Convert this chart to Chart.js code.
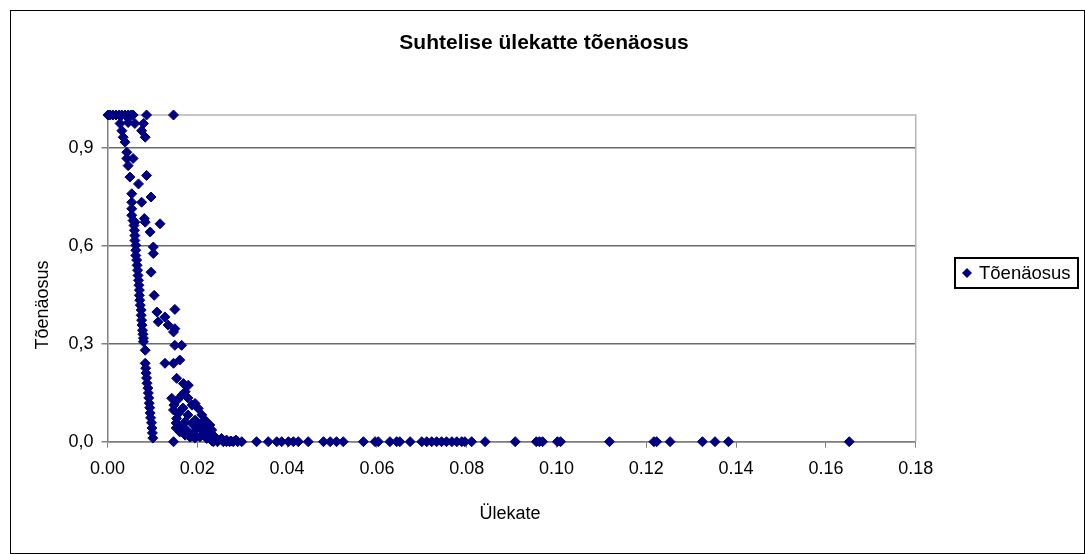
<!DOCTYPE html>
<html>
<head>
<meta charset="utf-8">
<script src="https://cdn.jsdelivr.net/npm/chart.js@4/dist/chart.umd.min.js"></script>
<style>
  html, body { margin: 0; padding: 0; background: #fff; }
  #wrap { width: 1085px; height: 554px; position: relative; }
</style>
</head>
<body>
<div id="wrap"><canvas id="overlapChart" width="1085" height="554"></canvas></div>
<script>
// Ülekate (x) vs tõenäosus (y)
const topX = [0.0001, 0.0006, 0.0012, 0.0019, 0.0026, 0.0032, 0.0039, 0.0046, 0.0052, 0.0057, 0.0087, 0.0147];
const topY = [1.0, 1.0, 1.0, 1.0, 1.0, 1.0, 1.0, 1.0, 1.0, 1.0, 1.0, 1.0];

const upperX = [0.0028, 0.0046, 0.0061, 0.0080, 0.0076, 0.0084, 0.0032, 0.0035, 0.0039, 0.0043, 0.0043, 0.0057,
  0.0046, 0.0050, 0.0087, 0.0069, 0.0054, 0.0097, 0.0054, 0.0076, 0.0054, 0.0054, 0.0082, 0.0061, 0.0117];
const upperY = [0.974, 0.977, 0.974, 0.974, 0.952, 0.932, 0.952, 0.932, 0.917, 0.886, 0.867, 0.867,
  0.845, 0.810, 0.815, 0.789, 0.759, 0.749, 0.733, 0.733, 0.713, 0.693, 0.683, 0.672, 0.667];

const leftX = [0.0057, 0.0059, 0.0060, 0.0061, 0.0061, 0.0063, 0.0063, 0.0063, 0.0065, 0.0066, 0.0067, 0.0068,
  0.0069, 0.0070, 0.0071, 0.0071, 0.0072, 0.0073, 0.0075, 0.0075, 0.0076, 0.0077, 0.0078, 0.0079, 0.0080,
  0.0080, 0.0084, 0.0084, 0.0085, 0.0086, 0.0087, 0.0088, 0.0090, 0.0091, 0.0092, 0.0093, 0.0094, 0.0095,
  0.0096, 0.0098, 0.0099, 0.0100, 0.0101];
const leftY = [0.677, 0.662, 0.647, 0.631, 0.616, 0.601, 0.586, 0.570, 0.556, 0.540, 0.525, 0.509,
  0.494, 0.479, 0.464, 0.448, 0.433, 0.418, 0.403, 0.387, 0.372, 0.357, 0.341, 0.329, 0.317,
  0.306, 0.280, 0.240, 0.225, 0.210, 0.195, 0.179, 0.164, 0.149, 0.134, 0.118, 0.104, 0.088,
  0.073, 0.058, 0.042, 0.027, 0.011];

const sideX = [0.0084, 0.0095, 0.0102, 0.0102, 0.0097, 0.0104, 0.0110, 0.0150, 0.0128, 0.0113, 0.0135, 0.0150];
const sideY = [0.672, 0.642, 0.596, 0.576, 0.519, 0.448, 0.397, 0.405, 0.382, 0.367, 0.357, 0.346];

const rightX = [0.0147, 0.0150, 0.0165, 0.0128, 0.0147, 0.0161, 0.0154, 0.0169, 0.0180, 0.0173, 0.0143, 0.0147,
  0.0158, 0.0195, 0.0202, 0.0210, 0.0217, 0.0228, 0.0232, 0.0173, 0.0161, 0.0176, 0.0191, 0.0206, 0.0221,
  0.0188, 0.0199, 0.0213, 0.0239, 0.0243, 0.0254, 0.0265, 0.0154, 0.0148, 0.0155, 0.0166, 0.0179, 0.0188,
  0.0168, 0.0179, 0.0195, 0.0206, 0.0217, 0.0226, 0.0195, 0.0184, 0.0173, 0.0161, 0.0153, 0.0153, 0.0233,
  0.0275, 0.0286];
const rightY = [0.336, 0.295, 0.295, 0.240, 0.240, 0.250, 0.194, 0.178, 0.173, 0.153, 0.133, 0.097,
  0.087, 0.117, 0.102, 0.082, 0.066, 0.051, 0.036, 0.061, 0.046, 0.036, 0.026, 0.015, 0.010,
  0.056, 0.041, 0.031, 0.015, 0.005, 0.010, 0.005, 0.071, 0.112, 0.127, 0.143, 0.134, 0.112,
  0.103, 0.082, 0.066, 0.051, 0.036, 0.020, 0.011, 0.014, 0.020, 0.030, 0.042, 0.057, 0.002,
  0.002, 0.005];

// points lying on the zero line
const zeroX = [0.0147, 0.0236, 0.0245, 0.0258, 0.0265, 0.0272, 0.0280, 0.0290, 0.0299, 0.0332, 0.0358, 0.0377,
  0.0388, 0.0403, 0.0414, 0.0425, 0.0447, 0.0481, 0.0496, 0.0510, 0.0525, 0.0570, 0.0596, 0.0603, 0.0629,
  0.0644, 0.0651, 0.0674, 0.0700, 0.0711, 0.0722, 0.0733, 0.0744, 0.0755, 0.0767, 0.0778, 0.0789, 0.0796,
  0.0811, 0.0841, 0.0908, 0.0955, 0.0962, 0.0969, 0.1002, 0.1009, 0.1118, 0.1217, 0.1223, 0.1253, 0.1325,
  0.1353, 0.1383, 0.1652];

const xTicks = [0, 0.02, 0.04, 0.06, 0.08, 0.10, 0.12, 0.14, 0.16, 0.18];
const yTicks = [0, 0.3, 0.6, 0.9];

const chartTitle = "Suhtelise ülekatte tõenäosus";
const xTitle = "Ülekate";
const yTitle = "Tõenäosus";
const seriesName = "Tõenäosus";

function pairUp(xs, ys) {
  return xs.map((x, i) => ({ x: x, y: ys[i] }));
}

const points = [
  ...pairUp(topX, topY),
  ...pairUp(upperX, upperY),
  ...pairUp(leftX, leftY),
  ...pairUp(sideX, sideY),
  ...pairUp(rightX, rightY),
  ...pairUp(zeroX, zeroX.map(() => 0)),
];

const FONT = '"Liberation Sans", Arial, sans-serif';
const NAVY = "#000080";

// frame, titles and legend drawn by hand like the old Excel chart
const decor = {
  id: "decor",
  beforeDraw(chart) {
    const ctx = chart.ctx;
    ctx.save();
    ctx.fillStyle = "#fff";
    ctx.fillRect(0, 0, chart.width, chart.height);
    ctx.strokeStyle = "#000";
    ctx.lineWidth = 1;
    ctx.strokeRect(10.5, 10.5, 1074, 543);
    ctx.restore();
  },
  beforeDatasetsDraw(chart) {
    const { ctx, chartArea: a } = chart;
    ctx.save();
    ctx.strokeStyle = "#b4b4b4";
    ctx.lineWidth = 1.5;
    ctx.beginPath();
    ctx.moveTo(a.left, a.top);
    ctx.lineTo(a.right, a.top);
    ctx.lineTo(a.right, a.bottom);
    ctx.stroke();
    ctx.restore();
  },
  afterDraw(chart) {
    const ctx = chart.ctx;
    ctx.save();
    ctx.fillStyle = "#000";
    ctx.textAlign = "center";
    ctx.textBaseline = "middle";
    ctx.font = "bold 21px " + FONT;
    ctx.fillText(chartTitle, 544, 43);

    ctx.font = "18px " + FONT;
    ctx.fillText(xTitle, 510, 514);

    ctx.save();
    ctx.translate(43, 305);
    ctx.rotate(-Math.PI / 2);
    ctx.fillText(yTitle, 0, 0);
    ctx.restore();

    // legend
    ctx.strokeStyle = "#000";
    ctx.lineWidth = 2;
    ctx.strokeRect(955, 258, 123, 30);
    ctx.fillStyle = NAVY;
    ctx.beginPath();
    ctx.moveTo(967, 268);
    ctx.lineTo(972, 273);
    ctx.lineTo(967, 278);
    ctx.lineTo(962, 273);
    ctx.closePath();
    ctx.fill();
    ctx.fillStyle = "#000";
    ctx.textAlign = "left";
    ctx.font = "18.5px " + FONT;
    ctx.fillText(seriesName, 979, 274);
    ctx.restore();
  },
};

new Chart(document.getElementById("overlapChart"), {
  type: "scatter",
  data: {
    datasets: [
      {
        label: seriesName,
        data: points,
        pointStyle: "rectRot",
        pointRadius: 5,
        pointHoverRadius: 5,
        borderWidth: 1,
        backgroundColor: NAVY,
        borderColor: NAVY,
        clip: false,
      },
    ],
  },
  options: {
    responsive: false,
    animation: false,
    events: [],
    layout: { padding: { left: 0, top: 115, right: 169.3, bottom: 0 } },
    plugins: {
      legend: { display: false },
      title: { display: false },
      tooltip: { enabled: false },
    },
    scales: {
      x: {
        type: "linear",
        min: 0,
        max: 0.18,
        afterBuildTicks: (scale) => {
          scale.ticks = xTicks.map((v) => ({ value: v }));
        },
        afterFit: (scale) => {
          scale.height = 112.3;
        },
        grid: { drawOnChartArea: false, tickLength: 6, tickColor: "#808080" },
        border: { color: "#808080", width: 1.5 },
        ticks: {
          color: "#000",
          padding: 11,
          maxRotation: 0,
          autoSkip: false,
          font: { family: FONT, size: 18 },
          callback: (v) => Number(v).toFixed(2),
        },
      },
      y: {
        type: "linear",
        min: 0,
        max: 1.0,
        afterBuildTicks: (scale) => {
          scale.ticks = yTicks.map((v) => ({ value: v }));
        },
        afterFit: (scale) => {
          scale.width = 107.5;
        },
        grid: { color: "#6a6a6a", lineWidth: 1.5, tickLength: 6, tickColor: "#808080" },
        border: { color: "#808080", width: 1.5 },
        ticks: {
          color: "#000",
          padding: 8,
          autoSkip: false,
          font: { family: FONT, size: 18 },
          callback: (v) => Number(v).toFixed(1).replace(".", ","),
        },
      },
    },
  },
  plugins: [decor],
});
</script>
</body>
</html>
